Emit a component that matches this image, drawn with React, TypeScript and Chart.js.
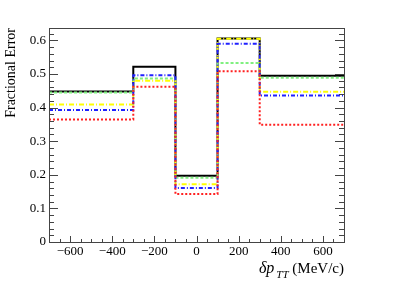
import React, { useEffect, useRef } from "react";
import { Chart, registerables } from "chart.js";

Chart.register(...registerables);

const binEdges = [-700, -300, -100, 100, 300, 700];
const blackValues = [0.448, 0.522, 0.197, 0.606, 0.495];
const greenValues = [0.445, 0.487, 0.191, 0.533, 0.489];
const yellowValues = [0.409, 0.48, 0.172, 0.605, 0.447];
const blueValues = [0.393, 0.496, 0.161, 0.59, 0.436];
const redValues = [0.365, 0.462, 0.143, 0.508, 0.349];

const xTickValues = [-600, -400, -200, 0, 200, 400, 600];
const yTickValues = [0, 0.1, 0.2, 0.3, 0.4, 0.5, 0.6];
const xMinorStep = 50;
const yMinorStep = 0.02;
const xRange = [-700, 700];
const yRange = [0, 0.637];

const yTitle = "Fractional Error";
const xTitleMain = "\u03B4p";
const xTitleSub = "TT";
const xTitleUnit = " (MeV/c)";

const SERIF = "'Liberation Serif', 'DejaVu Serif', serif";

function histPoints(values: number[]) {
  const pts = values.map((v, i) => ({ x: binEdges[i], y: v }));
  pts.push({ x: binEdges[binEdges.length - 1], y: values[values.length - 1] });
  return pts;
}

const framePlugin = {
  id: "rootFrame",
  afterDraw(chart: any) {
    const { ctx, chartArea } = chart;
    const xs = chart.scales.x;
    const ys = chart.scales.y;
    const L = Math.round(chartArea.left);
    const R = Math.round(chartArea.right);
    const T = Math.round(chartArea.top);
    const B = Math.round(chartArea.bottom);
    ctx.save();
    ctx.strokeStyle = "#444";
    ctx.lineWidth = 1;
    ctx.strokeRect(L + 0.5, T + 0.5, R - L, B - T);

    ctx.beginPath();
    // y ticks left and right
    for (let v = yRange[0]; v <= yRange[1] + 1e-9; v += yMinorStep) {
      const isMajor = Math.abs(v * 10 - Math.round(v * 10)) < 1e-6;
      const len = isMajor ? 9 : 5;
      const py = Math.round(ys.getPixelForValue(v)) + 0.5;
      ctx.moveTo(L, py);
      ctx.lineTo(L + len, py);
      ctx.moveTo(R, py);
      ctx.lineTo(R - len, py);
    }
    // x ticks bottom
    for (let v = xRange[0]; v <= xRange[1]; v += xMinorStep) {
      const isMajor = v % 200 === 0;
      const len = isMajor ? 6 : 3;
      const px = Math.round(xs.getPixelForValue(v)) + 0.5;
      ctx.moveTo(px, B);
      ctx.lineTo(px, B - len);
    }
    ctx.stroke();

    // Y title
    ctx.fillStyle = "#000";
    ctx.save();
    ctx.translate(15, T);
    ctx.rotate(-Math.PI / 2);
    ctx.font = `14px ${SERIF}`;
    ctx.textAlign = "right";
    ctx.textBaseline = "alphabetic";
    ctx.fillText(yTitle, 0, 0);
    ctx.restore();

    // X title right aligned at R
    const baseY = 273;
    ctx.font = `15px ${SERIF}`;
    const unitW = ctx.measureText(xTitleUnit).width;
    ctx.font = `italic 11px ${SERIF}`;
    const subW = ctx.measureText(xTitleSub).width;
    ctx.font = `italic 16px ${SERIF}`;
    const mainW = ctx.measureText(xTitleMain).width;
    let x0 = R - unitW - subW - mainW - 2;
    ctx.textAlign = "left";
    ctx.textBaseline = "alphabetic";
    ctx.fillText(xTitleMain, x0, baseY);
    x0 += mainW + 2;
    ctx.font = `italic 11px ${SERIF}`;
    ctx.fillText(xTitleSub, x0, baseY + 5);
    x0 += subW;
    ctx.font = `15px ${SERIF}`;
    ctx.fillText(xTitleUnit, x0, baseY);
    ctx.restore();
  },
};

export default function App() {
  const ref = useRef<HTMLCanvasElement | null>(null);
  useEffect(() => {
    if (!ref.current) return;
    const mk = (label: string, values: number[], color: string, dash: number[], order: number) => ({
      label,
      data: histPoints(values),
      borderColor: color,
      backgroundColor: color,
      borderWidth: 2,
      borderDash: dash,
      pointRadius: 0,
      stepped: "before" as const,
      fill: false,
      order,
    });
    const chart = new Chart(ref.current, {
      type: "line",
      data: {
        datasets: [
          mk("red", redValues, "#ff2020", [2, 2], 1),
          mk("blue", blueValues, "#2020ff", [4, 2, 1, 2], 2),
          mk("yellow", yellowValues, "#ffff00", [5, 2, 1, 2], 3),
          mk("green", greenValues, "#80f080", [3, 2], 4),
          mk("black", blackValues, "#000000", [], 5),
        ],
      },
      options: {
        animation: false,
        responsive: false,
        devicePixelRatio: 1,
        layout: { padding: { top: 28, right: 63, left: 0, bottom: 0 } },
        plugins: { legend: { display: false }, tooltip: { enabled: false } },
        scales: {
          x: {
            type: "linear",
            min: xRange[0],
            max: xRange[1],
            grid: { display: false, drawTicks: false },
            border: { display: false },
            afterBuildTicks: (s: any) => {
              s.ticks = xTickValues.map((v) => ({ value: v }));
            },
            afterFit: (s: any) => {
              s.height = 43;
            },
            ticks: {
              color: "#000",
              font: { family: SERIF, size: 13 },
              padding: 2,
              maxRotation: 0,
              autoSkip: false,
              callback: (v: any) => String(v).replace("-", "\u2212"),
            },
          },
          y: {
            type: "linear",
            min: yRange[0],
            max: yRange[1],
            grid: { display: false, drawTicks: false },
            border: { display: false },
            afterBuildTicks: (s: any) => {
              s.ticks = yTickValues.map((v) => ({ value: v }));
            },
            afterFit: (s: any) => {
              s.width = 49;
            },
            ticks: {
              color: "#000",
              font: { family: SERIF, size: 13 },
              padding: 3,
              autoSkip: false,
              callback: (v: any) => (Number(v) === 0 ? "0" : Number(v).toFixed(1)),
            },
          },
        },
      },
      plugins: [framePlugin],
    });
    return () => chart.destroy();
  }, []);
  return (
    <div style={{ position: "fixed", left: 0, top: 0, width: 407, height: 285, background: "#fff" }}>
      <canvas ref={ref} width={407} height={285} style={{ width: 407, height: 285 }} />
    </div>
  );
}
